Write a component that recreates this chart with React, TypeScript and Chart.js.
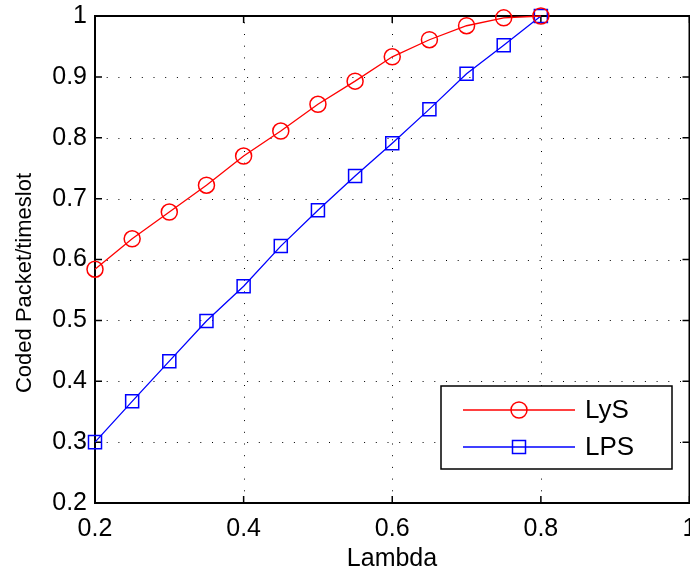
import { useEffect, useRef } from 'react';
import { Chart, registerables } from 'chart.js';

Chart.register(...registerables);

const lambda = [0.2, 0.25, 0.3, 0.35, 0.4, 0.45, 0.5, 0.55, 0.6, 0.65, 0.7, 0.75, 0.8];
const lysValues = [0.584, 0.634, 0.678, 0.722, 0.770, 0.811, 0.855, 0.893, 0.933, 0.961, 0.984, 0.997, 1.0];
const lpsValues = [0.300, 0.367, 0.433, 0.499, 0.556, 0.622, 0.681, 0.737, 0.791, 0.847, 0.905, 0.952, 1.0];
const seriesNames = ['LyS', 'LPS'];
const xTicks = [0.2, 0.4, 0.6, 0.8, 1];
const xTickLabels = ['0.2', '0.4', '0.6', '0.8', '1'];
const yTicks = [0.2, 0.3, 0.4, 0.5, 0.6, 0.7, 0.8, 0.9, 1];
const yTickLabels = ['0.2', '0.3', '0.4', '0.5', '0.6', '0.7', '0.8', '0.9', '1'];
const xTitle = 'Lambda';
const yTitle = 'Coded Packet/timeslot';

const FONT = "'Liberation Sans', Arial, Helvetica, sans-serif";
const RED = '#ff0000';
const BLUE = '#0000ff';

const matlabPlugin = {
  id: 'matlabAxes',
  beforeDatasetsDraw(chart: any) {
    const { ctx, chartArea } = chart;
    const { left, right, top, bottom } = chartArea;
    const xs = chart.scales.x;
    const ys = chart.scales.y;
    ctx.save();
    // dotted grid
    ctx.strokeStyle = '#000';
    ctx.lineWidth = 1;
    ctx.setLineDash([1, 10.7]);
    xTicks.forEach((v) => {
      const px = Math.round(xs.getPixelForValue(v)) + 0.5;
      if (px <= left + 2 || px >= right - 2) return;
      ctx.beginPath();
      ctx.moveTo(px, bottom);
      ctx.lineTo(px, top);
      ctx.stroke();
    });
    yTicks.forEach((v) => {
      const py = Math.round(ys.getPixelForValue(v)) + 0.5;
      if (py <= top + 2 || py >= bottom - 2) return;
      ctx.beginPath();
      ctx.moveTo(left, py);
      ctx.lineTo(right, py);
      ctx.stroke();
    });
    ctx.setLineDash([]);
    // inward ticks
    ctx.lineWidth = 1.5;
    const tl = 7;
    xTicks.forEach((v) => {
      const px = xs.getPixelForValue(v);
      ctx.beginPath();
      ctx.moveTo(px, bottom);
      ctx.lineTo(px, bottom - tl);
      ctx.moveTo(px, top);
      ctx.lineTo(px, top + tl);
      ctx.stroke();
    });
    yTicks.forEach((v) => {
      const py = ys.getPixelForValue(v);
      ctx.beginPath();
      ctx.moveTo(left, py);
      ctx.lineTo(left + tl, py);
      ctx.moveTo(right, py);
      ctx.lineTo(right - tl, py);
      ctx.stroke();
    });
    // box
    ctx.lineWidth = 2;
    ctx.strokeRect(left, top, right - left, bottom - top);
    ctx.restore();
  },
  afterDraw(chart: any) {
    const { ctx } = chart;
    ctx.save();
    // axis titles
    ctx.fillStyle = '#000';
    ctx.font = `25px ${FONT}`;
    ctx.textAlign = 'center';
    ctx.textBaseline = 'alphabetic';
    ctx.fillText(xTitle, 392, 566);
    ctx.save();
    ctx.translate(31, 283);
    ctx.rotate(-Math.PI / 2);
    ctx.font = `22px ${FONT}`;
    ctx.fillText(yTitle, 0, 0);
    ctx.restore();

    // legend
    const bx = 441, by = 386, bw = 231, bh = 83;
    ctx.fillStyle = '#fff';
    ctx.fillRect(bx, by, bw, bh);
    ctx.strokeStyle = '#000';
    ctx.lineWidth = 1.5;
    ctx.strokeRect(bx, by, bw, bh);
    const rows = [
      { name: seriesNames[0], color: RED, y: 410, marker: 'circle' },
      { name: seriesNames[1], color: BLUE, y: 447, marker: 'rect' },
    ];
    rows.forEach((r) => {
      ctx.strokeStyle = r.color;
      ctx.lineWidth = 1.3;
      ctx.beginPath();
      ctx.moveTo(463, r.y);
      ctx.lineTo(575, r.y);
      ctx.stroke();
      ctx.lineWidth = 1.5;
      ctx.beginPath();
      if (r.marker === 'circle') {
        ctx.arc(519, r.y, 8, 0, Math.PI * 2);
      } else {
        ctx.rect(519 - 6.5, r.y - 6.5, 13, 13);
      }
      ctx.stroke();
      ctx.fillStyle = '#000';
      ctx.font = `26px ${FONT}`;
      ctx.textAlign = 'left';
      ctx.textBaseline = 'middle';
      ctx.fillText(r.name, 585, r.y + 1);
    });
    ctx.restore();
  },
};

export default function App() {
  const ref = useRef<HTMLCanvasElement | null>(null);
  useEffect(() => {
    if (!ref.current) return;
    const chart = new Chart(ref.current, {
      type: 'line',
      data: {
        datasets: [
          {
            label: seriesNames[0],
            data: lambda.map((x, i) => ({ x, y: lysValues[i] })),
            borderColor: RED,
            borderWidth: 1.3,
            pointStyle: 'circle',
            pointRadius: 8,
            pointBorderWidth: 1.5,
            pointBorderColor: RED,
            pointBackgroundColor: 'rgba(0,0,0,0)',
            fill: false,
            tension: 0,
            clip: false as any,
          },
          {
            label: seriesNames[1],
            data: lambda.map((x, i) => ({ x, y: lpsValues[i] })),
            borderColor: BLUE,
            borderWidth: 1.3,
            pointStyle: 'rect',
            pointRadius: 9.2,
            pointBorderWidth: 1.5,
            pointBorderColor: BLUE,
            pointBackgroundColor: 'rgba(0,0,0,0)',
            fill: false,
            tension: 0,
            clip: false as any,
          },
        ],
      },
      options: {
        responsive: false,
        animation: false,
        devicePixelRatio: 1,
        layout: { padding: { top: 16, left: 0, right: 30.5, bottom: 0 } },
        plugins: { legend: { display: false }, tooltip: { enabled: false } },
        scales: {
          x: {
            type: 'linear',
            min: 0.2,
            max: 1,
            afterBuildTicks: (s: any) => {
              s.ticks = xTicks.map((v) => ({ value: v }));
            },
            afterFit: (s: any) => {
              s.height = 69;
              s.paddingLeft = 0;
              s.paddingRight = 0;
              s.paddingTop = 0;
              s.paddingBottom = 0;
            },
            ticks: {
              padding: 11,
              color: '#000',
              font: { family: FONT, size: 25 },
              maxRotation: 0,
              autoSkip: false,
              callback: (_v: any, i: number) => xTickLabels[i],
            },
            grid: { display: false, drawTicks: false },
            border: { display: false },
          },
          y: {
            type: 'linear',
            min: 0.2,
            max: 1,
            afterBuildTicks: (s: any) => {
              s.ticks = yTicks.map((v) => ({ value: v }));
            },
            afterFit: (s: any) => {
              s.width = 95;
              s.paddingLeft = 0;
              s.paddingRight = 0;
              s.paddingTop = 0;
              s.paddingBottom = 0;
            },
            ticks: {
              padding: 8,
              color: '#000',
              font: { family: FONT, size: 25 },
              autoSkip: false,
              callback: (_v: any, i: number) => yTickLabels[i],
            },
            grid: { display: false, drawTicks: false },
            border: { display: false },
          },
        },
      },
      plugins: [matlabPlugin],
    });
    return () => chart.destroy();
  }, []);
  return (
    <div
      style={{
        position: 'fixed',
        left: 0,
        top: 0,
        width: 690,
        height: 572,
        overflow: 'hidden',
        background: '#fff',
      }}
    >
      <canvas ref={ref} width={720} height={572} style={{ display: 'block' }} />
    </div>
  );
}
